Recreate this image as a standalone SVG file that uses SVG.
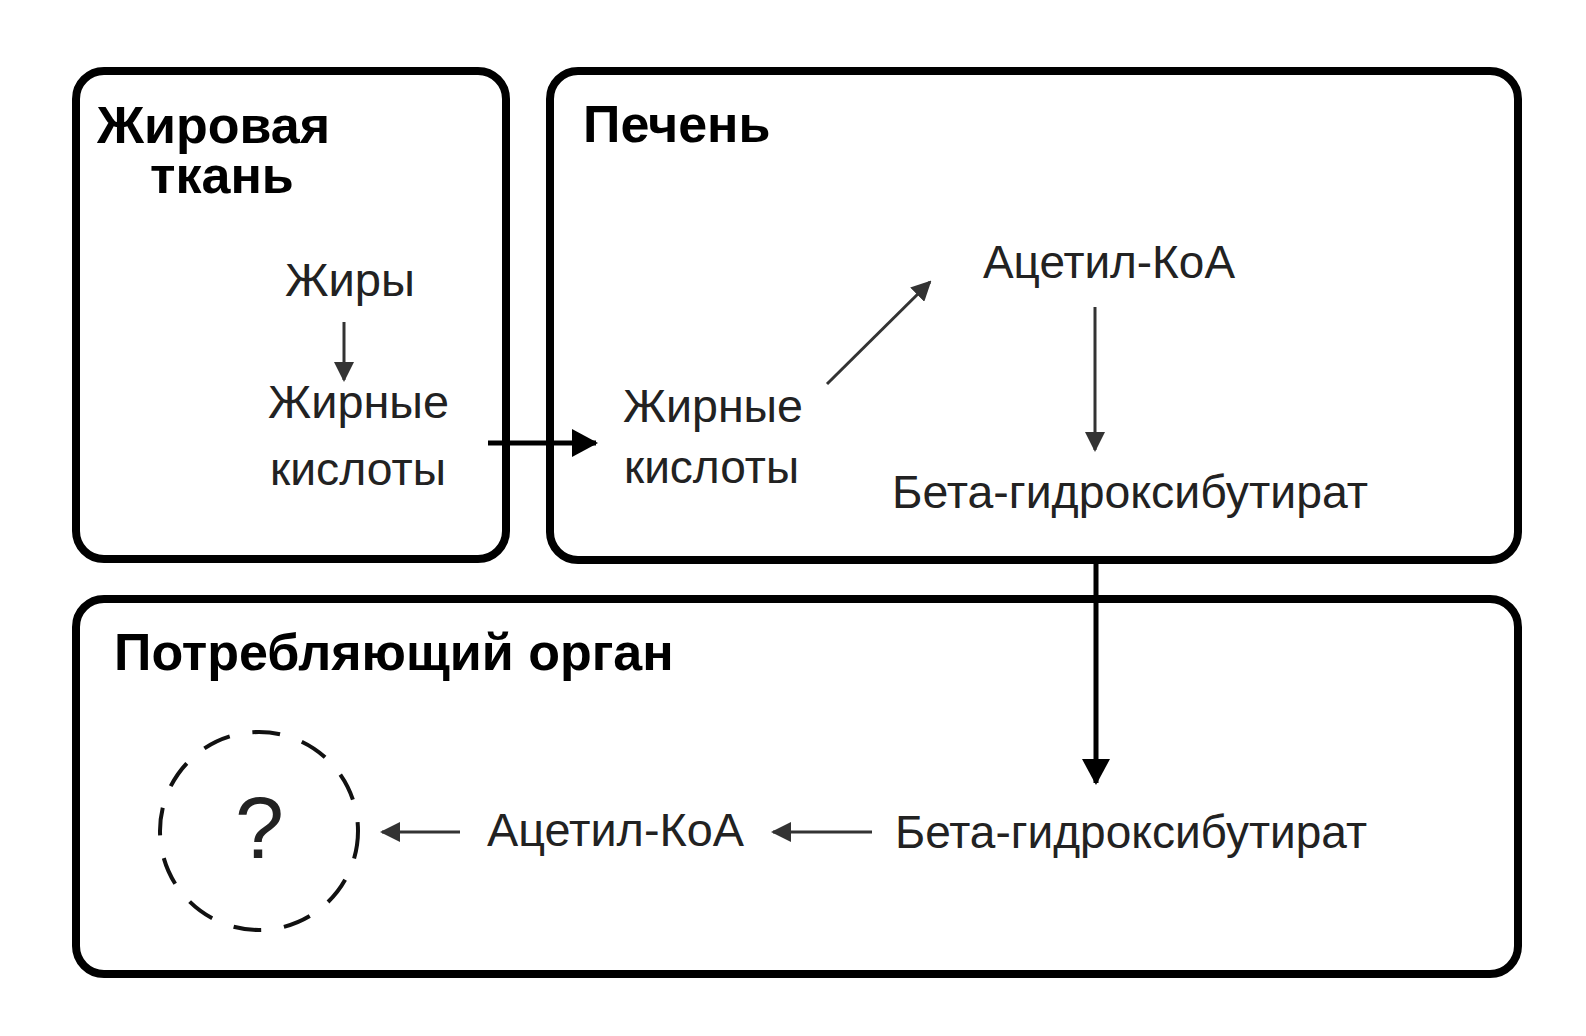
<svg xmlns="http://www.w3.org/2000/svg" width="1586" height="1036" viewBox="0 0 1586 1036">
  <style>
    .box { fill: none; stroke: #000; stroke-width: 8; }
    .title { font-family: "Liberation Sans", Arial, sans-serif; font-weight: bold; font-size: 52px; fill: #000; }
    .lbl { font-family: "Liberation Sans", Arial, sans-serif; font-size: 46px; fill: #222; }
    .q { font-family: "Liberation Sans", Arial, sans-serif; font-size: 88px; fill: #222; }
    .thin { fill: none; stroke: #333; stroke-width: 3; }
    .thick { fill: none; stroke: #000; stroke-width: 5; }
    .dash { fill: none; stroke: #111; stroke-width: 4; stroke-dasharray: 28 23; }
  </style>
  <defs>
    <marker id="ah" viewBox="0 0 20 20" markerWidth="20" markerHeight="20" markerUnits="userSpaceOnUse" refX="18" refY="10" orient="auto">
      <path d="M0,0 L20,10 L0,20 z" fill="#333"/>
    </marker>
    <marker id="ahb" viewBox="0 0 26 28" markerWidth="26" markerHeight="28" markerUnits="userSpaceOnUse" refX="24" refY="14" orient="auto">
      <path d="M0,0 L26,14 L0,28 z" fill="#000"/>
    </marker>
  </defs>
  <rect width="1586" height="1036" fill="#fff"/>

  <g id="adipose">
    <rect class="box" x="76" y="71" width="430" height="488" rx="28"/>
    <text class="title"><tspan x="97" y="143">Жировая</tspan><tspan x="150" y="193">ткань</tspan></text>
  </g>
  <g id="fats">
    <text class="lbl" x="285" y="296" textLength="130" lengthAdjust="spacingAndGlyphs">Жиры</text>
  </g>
  <g id="fa-adipose">
    <text class="lbl"><tspan x="268" y="418" textLength="181" lengthAdjust="spacingAndGlyphs">Жирные</tspan><tspan x="270" y="485" textLength="176" lengthAdjust="spacingAndGlyphs">кислоты</tspan></text>
  </g>

  <g id="liver">
    <rect class="box" x="550" y="71" width="968" height="489" rx="28"/>
    <text class="title" x="583" y="142">Печень</text>
  </g>
  <g id="fa-liver">
    <text class="lbl"><tspan x="623" y="422" textLength="180" lengthAdjust="spacingAndGlyphs">Жирные</tspan><tspan x="624" y="483" textLength="175" lengthAdjust="spacingAndGlyphs">кислоты</tspan></text>
  </g>
  <g id="acetyl-liver">
    <text class="lbl" x="983" y="278" textLength="252" lengthAdjust="spacingAndGlyphs">Ацетил-КоА</text>
  </g>
  <g id="bhb-liver">
    <text class="lbl" x="892" y="508" textLength="476" lengthAdjust="spacingAndGlyphs">Бета-гидроксибутират</text>
  </g>

  <g id="consumer">
    <rect class="box" x="76" y="599" width="1442" height="375" rx="28"/>
    <text class="title" x="114" y="670">Потребляющий орган</text>
  </g>
  <g id="bhb-consumer">
    <text class="lbl" x="895" y="848" textLength="472" lengthAdjust="spacingAndGlyphs">Бета-гидроксибутират</text>
  </g>
  <g id="acetyl-consumer">
    <text class="lbl" x="487" y="846" textLength="257" lengthAdjust="spacingAndGlyphs">Ацетил-КоА</text>
  </g>
  <g id="unknown">
    <circle class="dash" cx="259" cy="831" r="99"/>
    <text class="q" x="235" y="858">?</text>
  </g>

  <g id="connectors">
    <path class="thin" d="M344,322 V380" marker-end="url(#ah)"/>
    <path class="thick" d="M488,443 H596" marker-end="url(#ahb)"/>
    <path class="thin" d="M827,384 L930,282" marker-end="url(#ah)"/>
    <path class="thin" d="M1095,307 V450" marker-end="url(#ah)"/>
    <path class="thick" d="M1096,561 V783" marker-end="url(#ahb)"/>
    <path class="thin" d="M872,832 H773" marker-end="url(#ah)"/>
    <path class="thin" d="M460,832 H382" marker-end="url(#ah)"/>
  </g>
</svg>
